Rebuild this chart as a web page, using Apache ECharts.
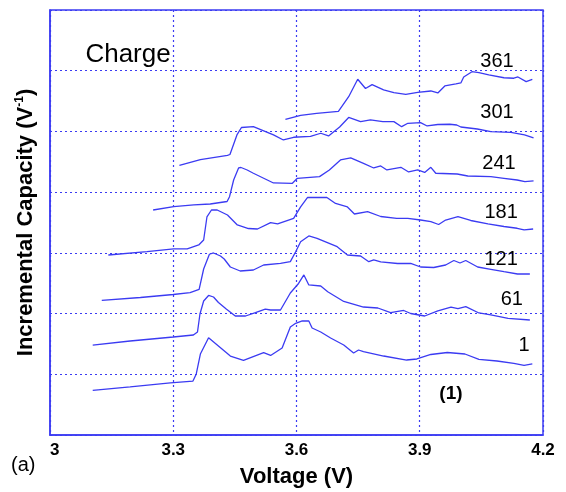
<!DOCTYPE html>
<html>
<head>
<meta charset="utf-8">
<script src="https://cdn.jsdelivr.net/npm/echarts@6/dist/echarts.min.js"></script>
<style>html,body{margin:0;padding:0;background:#fff}#c{width:566px;height:492px}</style>
</head>
<body>
<div id="c"></div>
<script>
// x: voltage (V), y: incremental capacity (arbitrary offset units)
const xTicks = [3, 3.3, 3.6, 3.9, 4.2];
const cycleNames = ['1', '61', '121', '181', '241', '301', '361'];

const cycle1 = [[3.104,0.736],[3.195,0.791],[3.293,0.857],[3.348,0.889],[3.356,1.005],[3.366,1.334],[3.386,1.603],[3.415,1.438],[3.439,1.301],[3.471,1.230],[3.520,1.356],[3.537,1.310],[3.565,1.433],[3.585,1.779],[3.598,1.840],[3.614,1.878],[3.630,1.878],[3.638,1.762],[3.659,1.697],[3.683,1.598],[3.715,1.482],[3.739,1.351],[3.751,1.400],[3.763,1.372],[3.812,1.301],[3.868,1.235],[3.893,1.252],[3.927,1.326],[3.967,1.359],[4.010,1.334],[4.044,1.247],[4.088,1.219],[4.129,1.181],[4.154,1.148],[4.174,1.170]];

const cycle61 = [[3.104,1.482],[3.195,1.548],[3.300,1.614],[3.349,1.647],[3.359,1.697],[3.365,1.993],[3.374,2.207],[3.386,2.298],[3.398,2.273],[3.410,2.183],[3.429,2.075],[3.451,1.960],[3.476,1.960],[3.500,2.015],[3.524,2.075],[3.537,2.059],[3.561,2.059],[3.585,2.339],[3.605,2.496],[3.618,2.636],[3.630,2.471],[3.659,2.454],[3.676,2.360],[3.715,2.199],[3.763,2.108],[3.798,2.092],[3.829,2.015],[3.861,2.051],[3.878,2.001],[3.912,1.960],[3.944,2.043],[3.976,2.108],[3.993,2.080],[4.012,2.113],[4.044,2.010],[4.073,1.977],[4.115,1.922],[4.168,1.894]];

const cycle121 = [[3.126,2.216],[3.220,2.265],[3.300,2.314],[3.341,2.344],[3.363,2.397],[3.374,2.734],[3.388,2.977],[3.398,2.998],[3.415,2.948],[3.424,2.899],[3.439,2.767],[3.463,2.701],[3.495,2.718],[3.520,2.800],[3.561,2.828],[3.585,2.855],[3.598,3.019],[3.610,3.184],[3.630,3.278],[3.650,3.240],[3.699,3.102],[3.724,2.965],[3.756,2.948],[3.776,2.855],[3.788,2.883],[3.805,2.850],[3.846,2.825],[3.878,2.825],[3.902,2.767],[3.934,2.759],[3.963,2.800],[3.983,2.874],[3.998,2.833],[4.012,2.874],[4.041,2.767],[4.073,2.729],[4.105,2.690],[4.138,2.652],[4.168,2.652]];

const cycle181 = [[3.142,2.965],[3.236,3.019],[3.301,3.064],[3.334,3.064],[3.362,3.130],[3.374,3.212],[3.382,3.591],[3.393,3.706],[3.407,3.706],[3.432,3.624],[3.456,3.459],[3.483,3.401],[3.505,3.393],[3.537,3.497],[3.554,3.476],[3.593,3.569],[3.610,3.756],[3.627,3.912],[3.674,3.912],[3.695,3.813],[3.724,3.756],[3.741,3.640],[3.773,3.678],[3.805,3.599],[3.844,3.569],[3.871,3.569],[3.902,3.541],[3.927,3.513],[3.946,3.467],[3.963,3.541],[3.993,3.596],[4.024,3.533],[4.066,3.476],[4.105,3.434],[4.137,3.405],[4.154,3.377],[4.176,3.393]];

const cycle241 = [[3.251,3.706],[3.301,3.761],[3.350,3.789],[3.390,3.805],[3.431,3.846],[3.437,3.925],[3.447,4.200],[3.459,4.398],[3.465,4.406],[3.480,4.365],[3.495,4.311],[3.544,4.151],[3.590,4.146],[3.602,4.228],[3.656,4.255],[3.680,4.365],[3.707,4.530],[3.732,4.563],[3.763,4.475],[3.788,4.398],[3.805,4.431],[3.820,4.365],[3.854,4.409],[3.873,4.332],[3.895,4.365],[3.912,4.324],[3.927,4.409],[3.939,4.311],[3.991,4.299],[4.017,4.266],[4.073,4.255],[4.105,4.228],[4.137,4.200],[4.156,4.172],[4.177,4.184]];

const cycle301 = [[3.315,4.439],[3.366,4.535],[3.432,4.604],[3.438,4.620],[3.455,4.942],[3.466,5.065],[3.495,5.078],[3.544,4.942],[3.568,4.859],[3.593,4.904],[3.634,4.917],[3.659,4.970],[3.678,4.925],[3.705,5.073],[3.727,5.230],[3.756,5.161],[3.780,5.189],[3.810,5.161],[3.837,5.161],[3.856,5.078],[3.871,5.134],[3.902,5.144],[3.918,5.090],[3.944,5.114],[3.973,5.118],[3.990,5.106],[4.000,5.073],[4.040,5.040],[4.073,4.996],[4.122,4.983],[4.155,4.942],[4.177,4.892]];

const cycle361 = [[3.573,5.197],[3.610,5.263],[3.649,5.296],[3.702,5.329],[3.727,5.572],[3.749,5.859],[3.768,5.707],[3.784,5.770],[3.812,5.683],[3.837,5.638],[3.866,5.609],[3.895,5.642],[3.927,5.666],[3.944,5.633],[3.961,5.749],[3.988,5.782],[4.000,5.798],[4.007,5.897],[4.027,5.984],[4.044,5.968],[4.068,5.930],[4.105,5.884],[4.129,5.876],[4.139,5.897],[4.159,5.820],[4.174,5.859]];

// cycle-number label anchor points (data coordinates)
const cycleLabelPos = [[4.154,1.482],[4.124,2.240],[4.098,2.899],[4.098,3.673],[4.093,4.480],[4.088,5.304],[4.088,6.149]];
const chargeLabelPos = [3.190, 6.259];
const panelLabelPos = [3.976, 0.675];

const curves = [cycle1, cycle61, cycle121, cycle181, cycle241, cycle301, cycle361];
const BLUE = '#3b3bf2';
const FONT = 'Liberation Sans, Arial, sans-serif';

const series = curves.map((d, i) => ({
  type: 'line', name: 'cycle ' + cycleNames[i], data: d, showSymbol: false, symbol: 'none',
  lineStyle: { color: BLUE, width: 1.3 }, silent: true, animation: false
}));

const chart = echarts.init(document.getElementById('c'), null, { renderer: 'canvas' });
chart.setOption({
  animation: false,
  backgroundColor: '#fff',
  grid: { left: 50, right: 23, top: 10, bottom: 57, show: true, borderColor: BLUE, borderWidth: 1.5,
    containLabel: false, outerBoundsMode: 'none' },
  xAxis: {
    type: 'value', min: xTicks[0], max: xTicks[xTicks.length - 1], interval: 0.3,
    name: 'Voltage (V)', nameLocation: 'middle', nameGap: 31,
    nameTextStyle: { fontSize: 22, fontWeight: 'bold', color: '#000', fontFamily: FONT },
    axisLine: { lineStyle: { color: BLUE, width: 1.5 } },
    axisTick: { show: false },
    axisLabel: { formatter: v => String(+v.toFixed(1)), fontSize: 17, fontWeight: 'bold', color: '#000', margin: 7,
      alignMinLabel: 'left', fontFamily: FONT },
    splitLine: { show: true, lineStyle: { color: BLUE, type: [2, 3], width: 1.2 } }
  },
  yAxis: {
    type: 'value', min: 0, max: 7, interval: 1,
    name: '{a|Incremental Capacity (V}{s|-1}{a|)}', nameLocation: 'middle', nameGap: 12,
    nameTextStyle: { rich: {
      a: { fontSize: 22, fontWeight: 'bold', color: '#000', fontFamily: FONT, lineHeight: 24 },
      s: { fontSize: 12, fontWeight: 'bold', color: '#000', fontFamily: FONT, verticalAlign: 'top', lineHeight: 24, padding: [0, 0, 9, 0] }
    } },
    axisLine: { lineStyle: { color: BLUE, width: 1.5 } },
    axisTick: { show: false },
    axisLabel: { show: false },
    splitLine: { show: true, lineStyle: { color: BLUE, type: [2, 3], width: 1.2 } }
  },
  series: series
});

// Text annotations placed through the chart's own coordinate conversion
function textAt(pos, text, size, weight) {
  const p = chart.convertToPixel({ gridIndex: 0 }, pos);
  return { type: 'text', x: p[0], y: p[1], silent: true,
    style: { text: text, fontSize: size, fontWeight: weight, fill: '#000', fontFamily: FONT,
      align: 'center', verticalAlign: 'middle' } };
}
const graphics = cycleLabelPos.map((p, i) => textAt(p, cycleNames[i], 20, 'normal'));
graphics.push(textAt(chargeLabelPos, 'Charge', 26, 'normal'));
graphics.push(textAt(panelLabelPos, '(1)', 19, 'bold'));
graphics.push({ type: 'text', left: 11, top: 455, silent: true,
  style: { text: '(a)', fontSize: 20, fill: '#000', fontFamily: FONT } });
chart.setOption({ graphic: graphics });
</script>
</body>
</html>
